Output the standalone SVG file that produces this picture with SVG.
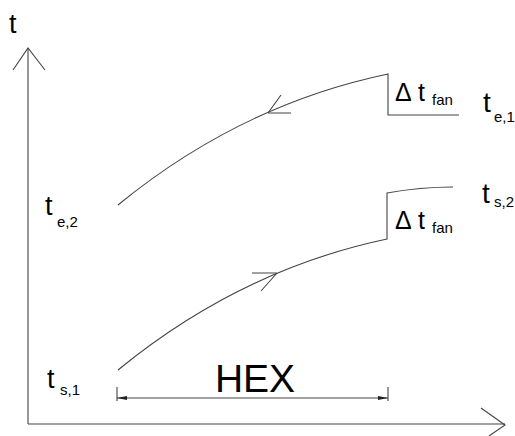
<svg xmlns="http://www.w3.org/2000/svg" width="515" height="436" viewBox="0 0 515 436">
<defs>
<style>
.ln{fill:none;stroke:#444;stroke-width:1.1}
.t{font-family:"Liberation Sans",Arial,sans-serif;fill:#000}
.big{font-size:27px}
.d{font-size:25px}
.sub{font-size:15px}
</style>
<marker id="dim" viewBox="0 0 10 6" refX="10" refY="3" markerWidth="10" markerHeight="6" orient="auto-start-reverse" markerUnits="userSpaceOnUse">
<path d="M0,1 L10,3 L0,5 Z" fill="#222"/>
</marker>
</defs>
<rect width="515" height="436" fill="#fff"/>
<g id="axes" class="ln">
<path d="M28,424 V48"/>
<path d="M13,70 L28,48 L45,70"/>
<path d="M28,424 H505"/>
<path d="M481,408 L505,425 L489,436"/>
</g>
<g id="connectors" class="ln">
<path id="upper-curve" d="M118,205 Q240,105 388,74 V115 H459"/>
<path d="M268,113 L281,95 M268,113 L291,113"/>
<path id="lower-curve" d="M118,370 Q240,270 387,239 V193 Q420,187 453,187"/>
<path d="M277,273 L252,273 M277,273 L261,291"/>
<path d="M117,387 V401 M388,387 V401"/>
<path d="M117,398 H388" marker-start="url(#dim)" marker-end="url(#dim)"/>
</g>
<g id="labels">
<text class="t big" x="9" y="33">t</text>
<g id="dtfan-1"><text class="t d" x="395" y="101">Δ</text><text class="t d" x="418" y="101">t</text><text class="t sub" x="432" y="105">fan</text></g>
<g id="te1"><text class="t" font-size="28" x="483" y="112">t</text><text class="t sub" x="494" y="122">e,1</text></g>
<g id="dtfan-2"><text class="t d" x="395" y="229">Δ</text><text class="t d" x="418" y="229">t</text><text class="t sub" x="432" y="233">fan</text></g>
<g id="ts2"><text class="t" font-size="28" x="482" y="203">t</text><text class="t sub" x="494" y="207">s,2</text></g>
<g id="te2"><text class="t big" x="45" y="215">t</text><text class="t sub" x="57" y="227">e,2</text></g>
<g id="ts1"><text class="t big" x="47" y="388">t</text><text class="t sub" x="60" y="395">s,1</text></g>
<text class="t" x="255" y="392" font-size="39" text-anchor="middle">HEX</text>
</g>
</svg>
